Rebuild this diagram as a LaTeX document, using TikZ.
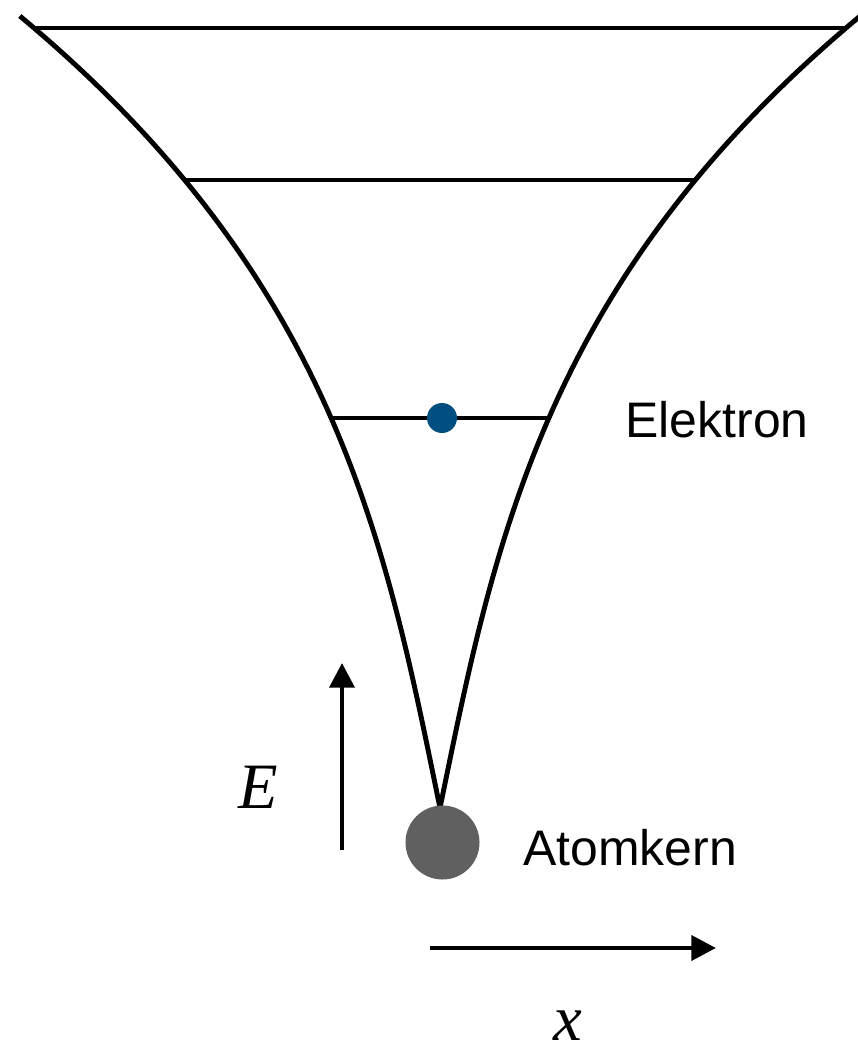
\documentclass[tikz,border=0pt]{standalone}
\usepackage{fontspec}
\usepackage{tikz}
\usetikzlibrary{arrows.meta,positioning}
\newfontfamily\labelfont{Liberation Sans}
\newfontfamily\symbolfont{Liberation Serif}
\definecolor{electron}{HTML}{004F80}
\definecolor{nucleus}{HTML}{606060}

\begin{document}
\begin{tikzpicture}[
    x=0.025cm, y=-0.025cm,
    >={Triangle[length=17.5pt, width=17.5pt]},
    wall/.style={line width=3.5pt, line join=round},
    level/.style={line width=3.5pt},
    axis/.style={->, line width=3.4pt},
    particle/.style={circle, inner sep=0pt},
    caption/.style={font=\labelfont\fontsize{35.5}{42}\selectfont,
                    inner sep=0pt, anchor=base},
    symbol/.style={font=\symbolfont\itshape\fontsize{46}{55}\selectfont,
                   inner sep=0pt, anchor=base},
]

\def\cx{440}
\def\ybot{808}
% half width of the well at depth u (in units of 100)
\def\wall#1{20.48*(#1) - 0.231*(#1)^2 + 0.5485*(#1)^3}

\useasboundingbox (0,0) rectangle (857,1048);

% ── Potential well: left wall, mirrored for the right one ──
\foreach \side in {1,-1} {
    \draw[wall, shift={(\cx,\ybot)}, xscale=\side]
        plot[domain=0:7.92, samples=80, smooth] ({-(\wall{\x})}, {-100*\x});
}

% ── Energy levels ──
\foreach \y [count=\i] in {28, 180, 418} {
    \pgfmathsetmacro{\dx}{\wall{(\ybot-\y)/100}}
    \coordinate (lv\i-a) at (\cx-\dx,\y);
    \coordinate (lv\i-b) at (\cx+\dx,\y);
    \draw[level] (lv\i-a) -- (lv\i-b);
}

\node[particle, fill=electron, minimum size=0.75cm] (electron) at (442,418) {};
\node[particle, fill=nucleus, minimum size=1.85cm] (nucleus) at (442.5,842.5) {};

\node[caption] (elektronlabel) at (717,437) {Elektron};
\node[caption] (kernlabel) at (630,865) {Atomkern};

% ── Axes ──
\coordinate (E-start) at (342,850);
\coordinate (E-end) at (342,663);
\draw[axis] (E-start) -- (E-end);
\node[symbol] (Elabel) at (258,808) {E};

\coordinate (x-start) at (430,948);
\coordinate (x-end) at (716,948);
\draw[axis] (x-start) -- (x-end);
\node[symbol] (xlabel) at (568,1040) {x};

\end{tikzpicture}
\end{document}
